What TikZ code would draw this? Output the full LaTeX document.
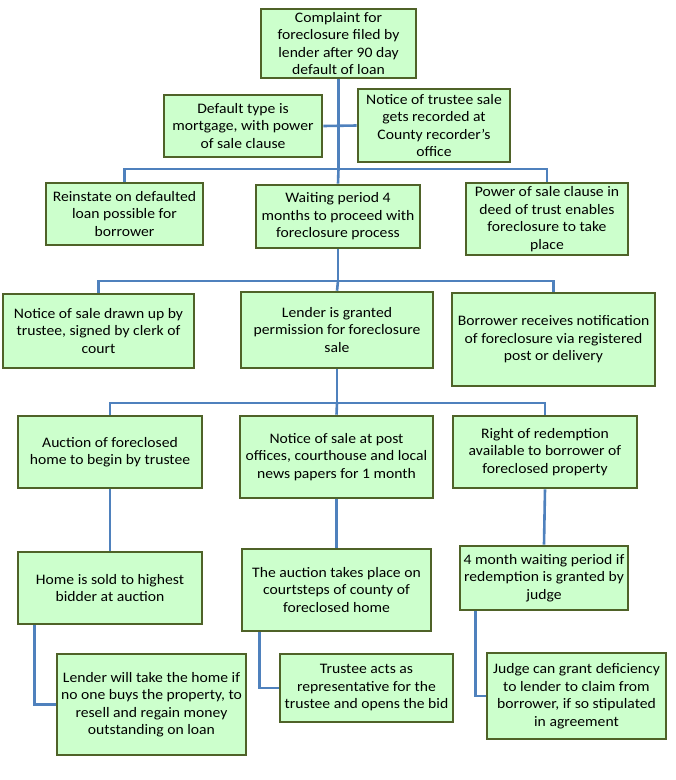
\documentclass[tikz,border=0pt]{standalone}
\usepackage{fontspec}
\setmainfont{Carlito}[FakeStretch=1.08]
\definecolor{boxfill}{HTML}{CCFFCC}
\definecolor{boxdraw}{HTML}{4F6228}
\definecolor{connblue}{HTML}{4F81BD}
\tikzset{
  stepbox/.style={draw=boxdraw, fill=boxfill, line width=2.6pt, align=center,
    inner sep=0pt, font=\fontsize{14.5}{17.5}\selectfont},
  conn/.style={draw=connblue, line width=2.6pt}
}
\newcommand{\bx}[6]{\node[stepbox, minimum width=#4, minimum height=#5] (#1) at (#2,#3) {#6};}
\begin{document}
\begin{tikzpicture}[x=1pt,y=-1pt]
\useasboundingbox[fill=white] (0,0) rectangle (676,780);
\bx{top}{338.5}{43.5}{155}{69}{Complaint for\\foreclosure filed by\\lender after 90 day\\default of loan}
\bx{deftype}{243}{126}{158}{62}{Default type is\\mortgage, with power\\of sale clause}
\bx{ntrustee}{434}{125.5}{152}{73}{Notice of trustee sale\\gets recorded at\\County recorder's\\office}
\bx{reinstate}{124.5}{214}{157}{62}{Reinstate on defaulted\\loan possible for\\borrower}
\bx{waiting}{338}{216.5}{164}{63}{Waiting period 4\\months to proceed with\\foreclosure process}
\bx{power}{547}{219}{162}{72}{Power of sale clause in\\deed of trust enables\\foreclosure to take\\place}
\bx{ndrawn}{98.5}{331}{191}{74}{Notice of sale drawn up by\\trustee, signed by clerk of\\court}
\bx{granted}{337}{330}{192}{76}{Lender is granted\\permission for foreclosure\\sale}
\bx{borrower}{553.5}{339.5}{203}{93}{Borrower receives notification\\of foreclosure via registered\\post or delivery}
\bx{auction}{110}{452}{184}{72}{Auction of foreclosed\\home to begin by trustee}
\bx{npost}{336.5}{457}{193}{82}{Notice of sale at post\\offices, courthouse and local\\news papers for 1 month}
\bx{redemption}{545}{452}{184}{72}{Right of redemption\\available to borrower of\\foreclosed property}
\bx{homesold}{110}{588}{184}{72}{Home is sold to highest\\bidder at auction}
\bx{auctiontakes}{336.5}{590}{189}{82}{The auction takes place on\\courtsteps of county of\\foreclosed home}
\bx{fourmonth}{544}{578}{168}{64}{4 month waiting period if\\redemption is granted by\\judge}
\bx{lendertake}{151.5}{704.5}{189}{101}{Lender will take the home if\\no one buys the property, to\\resell and regain money\\outstanding on loan}
\bx{trusteeacts}{366.5}{688}{173}{68}{Trustee acts as\\representative for the\\trustee and opens the bid}
\bx{judge}{576.5}{696}{179}{86}{Judge can grant deficiency\\to lender to claim from\\borrower, if so stipulated\\in agreement}
% junctions
\coordinate (j1) at (338.5,169);
\coordinate (j2) at (338,281);
\coordinate (j3) at (337,403);
% level 1
\draw[conn] (top.south) -- (j1);
\draw[conn] (deftype.east) -- (ntrustee.west);
\draw[conn] (reinstate.north) |- (j1) -| (power.north);
\draw[conn] (j1) -- (waiting.north);
% level 2
\draw[conn] (waiting.south) -- (j2);
\draw[conn] (ndrawn.north) |- (j2) -| (borrower.north);
\draw[conn] (j2) -- (granted.north);
% level 3
\draw[conn] (granted.south) -- (j3);
\draw[conn] (auction.north) |- (j3) -| (redemption.north);
\draw[conn] (j3) -- (npost.north);
% columns
\draw[conn] (auction.south) -- (homesold.north);
\draw[conn] (npost.south) -- (auctiontakes.north);
\draw[conn] (redemption.south) -- (fourmonth.north);
% elbows
\draw[conn] ([xshift=18pt]homesold.south west) |- (lendertake.west);
\draw[conn] ([xshift=19pt]auctiontakes.south west) |- (trusteeacts.west);
\draw[conn] ([xshift=17pt]fourmonth.south west) |- (judge.west);
\end{tikzpicture}
\end{document}
